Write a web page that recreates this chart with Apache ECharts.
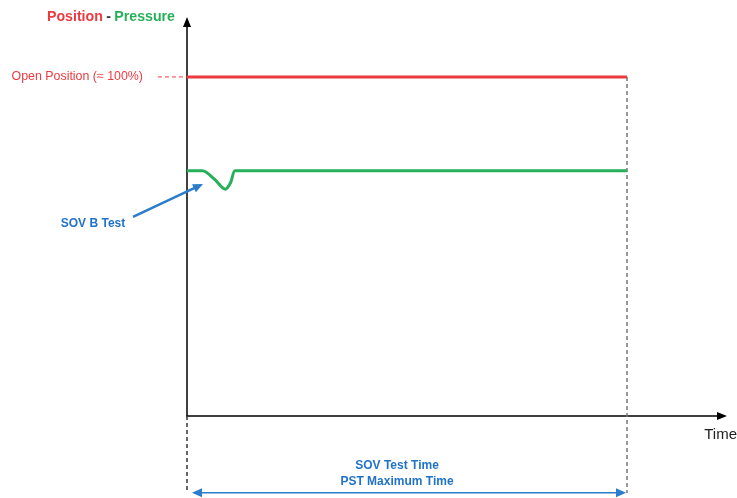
<!DOCTYPE html>
<html>
<head>
<meta charset="utf-8">
<script src="https://cdn.jsdelivr.net/npm/echarts@6/dist/echarts.min.js"></script>
<style>html,body{margin:0;padding:0;background:#fff}#c{width:737px;height:498px}</style>
</head>
<body>
<div id="c"></div>
<script>
// ---- data (time in arbitrary units, position/pressure in %) ----
const positionTime = [0, 10];
const positionValue = [100, 100];
const pressureTime = [0, 0.35, 0.62, 0.87, 0.99, 1.091, 1.2, 10];
const pressureValue = [72.3, 72.3, 69.9, 66.9, 68.8, 72.3, 72.3, 72.3];
const openPositionLevel = 100;
const openPositionLabel = 'Open Position (≈ 100%)';
const openGuide = [-0.66, 100, 0, 100];          // x1, y1, x2, y2
const testEndTime = 10;
const belowAxisLevel = -22.7;
const spanArrowTime = [0.227, 9.864];
const spanArrowLevel = -22.6;
const spanLabel = 'SOV Test Time\nPST Maximum Time';
const spanLabelPos = [4.773, -17.1];
const sovArrow = [-1.227, 58.7, 0.364, 68.44];   // tail x, y, tip x, y
const sovLabel = 'SOV B Test';
const sovLabelPos = [-2.136, 56.6];

const RED = '#ec3b3f', GREEN = '#25b059', BLUE = '#2a7dcb', TEXT_BLUE = '#2173c8';
const FONT = 'Liberation Sans, Arial, sans-serif';

const chart = echarts.init(document.getElementById('c'), null, {renderer: 'canvas'});
const zip = (a, b) => a.map((v, i) => [v, b[i]]);

function segmentItem(color, width, dash, arrow) {
  return function (params, api) {
    const p1 = api.coord([api.value(0), api.value(1)]);
    const p2 = api.coord([api.value(2), api.value(3)]);
    const children = [];
    let end = p2;
    if (arrow) {
      const dx = p2[0] - p1[0], dy = p2[1] - p1[1];
      const len = Math.sqrt(dx * dx + dy * dy);
      const ux = dx / len, uy = dy / len;
      const L = 10, W = 4.5;
      const bx = p2[0] - ux * L, by = p2[1] - uy * L;
      end = [bx + ux * 2, by + uy * 2];
      children.push({
        type: 'polygon',
        shape: {points: [p2, [bx - uy * W, by + ux * W], [bx + uy * W, by - ux * W]]},
        style: {fill: color}, z2: 2
      });
    }
    children.unshift({
      type: 'line',
      shape: {x1: p1[0], y1: p1[1], x2: end[0], y2: end[1]},
      style: {stroke: color, lineWidth: width, lineDash: dash || null}
    });
    return {type: 'group', children: children};
  };
}

const labelStyle = {show: true, position: 'inside', color: TEXT_BLUE, fontSize: 12, fontWeight: 'bold',
  fontFamily: FONT, textBorderWidth: 0, textBorderColor: 'transparent', opacity: 1};

const option = {
  animation: false,
  textStyle: {fontFamily: FONT},
  grid: {left: 187, right: 15, top: 22, bottom: 82, containLabel: false, outerBoundsMode: 'none'},
  xAxis: {
    type: 'value', min: 0, max: 12.159,
    axisLine: {onZero: false, lineStyle: {color: '#000', width: 1.5}, symbol: ['none', 'triangle'], symbolSize: [8, 10]},
    axisTick: {show: false}, axisLabel: {show: false}, splitLine: {show: false},
    name: 'Time', nameLocation: 'end', nameGap: 15,
    nameTextStyle: {color: '#222', fontSize: 15, fontFamily: FONT, align: 'right', verticalAlign: 'top', padding: [11, 0, 0, 0]}
  },
  yAxis: {
    type: 'value', min: 0, max: 116.2, interval: 100,
    axisLine: {onZero: false, lineStyle: {color: '#000', width: 1.5}, symbol: ['none', 'triangle'], symbolSize: [8, 10]},
    axisTick: {show: false}, splitLine: {show: false},
    axisLabel: {
      formatter: v => (v === openPositionLevel ? openPositionLabel : ''),
      color: RED, fontSize: 12.4, fontFamily: FONT, margin: 44, showMaxLabel: false
    },
    name: '{r|Position} {d|-} {g|Pressure}', nameLocation: 'end', nameGap: 5,
    nameTextStyle: {
      align: 'right', verticalAlign: 'middle', padding: [0, 12, 0, 0],
      rich: {
        r: {color: RED, fontSize: 14.2, fontWeight: 'bold', fontFamily: FONT},
        d: {color: '#333', fontSize: 14.2, fontWeight: 'bold', fontFamily: FONT},
        g: {color: GREEN, fontSize: 14.2, fontWeight: 'bold', fontFamily: FONT}
      }
    }
  },
  series: [
    { // position
      type: 'line', data: zip(positionTime, positionValue), showSymbol: false,
      lineStyle: {color: RED, width: 3}, z: 5
    },
    { // pressure
      type: 'line', data: zip(pressureTime, pressureValue), showSymbol: false,
      smooth: 0.3,
      lineStyle: {color: GREEN, width: 3}, z: 5
    },
    { // red dashed guide to open position label
      type: 'custom', clip: false, data: [openGuide],
      renderItem: segmentItem(RED, 1, [4, 3], false), silent: true
    },
    { // SOV B Test arrow
      type: 'custom', clip: false, data: [sovArrow],
      renderItem: segmentItem(BLUE, 2.5, null, true), silent: true, z: 6
    },
    { // vertical dashed at test end
      type: 'line', clip: false, data: [[testEndTime, openPositionLevel], [testEndTime, belowAxisLevel]], showSymbol: false,
      lineStyle: {color: '#777', width: 1.5, type: [4, 3]}
    },
    { // vertical dashed below origin
      type: 'line', clip: false, data: [[0, 0], [0, belowAxisLevel]], showSymbol: false,
      lineStyle: {color: '#333', width: 1.5, type: [4, 3]}
    },
    { // double arrow span
      type: 'line', clip: false,
      data: [
        {value: [spanArrowTime[0], spanArrowLevel], symbolRotate: 90},
        {value: [spanArrowTime[1], spanArrowLevel], symbolRotate: -90}
      ],
      symbol: 'triangle', symbolSize: [9, 10], showSymbol: true,
      itemStyle: {color: BLUE}, lineStyle: {color: BLUE, width: 1.5}
    },
    { // text labels
      type: 'scatter', clip: false, symbolSize: 1, itemStyle: {color: 'rgba(0,0,0,0)', opacity: 1},
      data: [
        {value: sovLabelPos, label: Object.assign({}, labelStyle, {formatter: sovLabel})},
        {value: spanLabelPos, label: Object.assign({}, labelStyle, {formatter: spanLabel, lineHeight: 16, align: 'center'})}
      ]
    }
  ]
};
chart.setOption(option);
</script>
</body>
</html>
